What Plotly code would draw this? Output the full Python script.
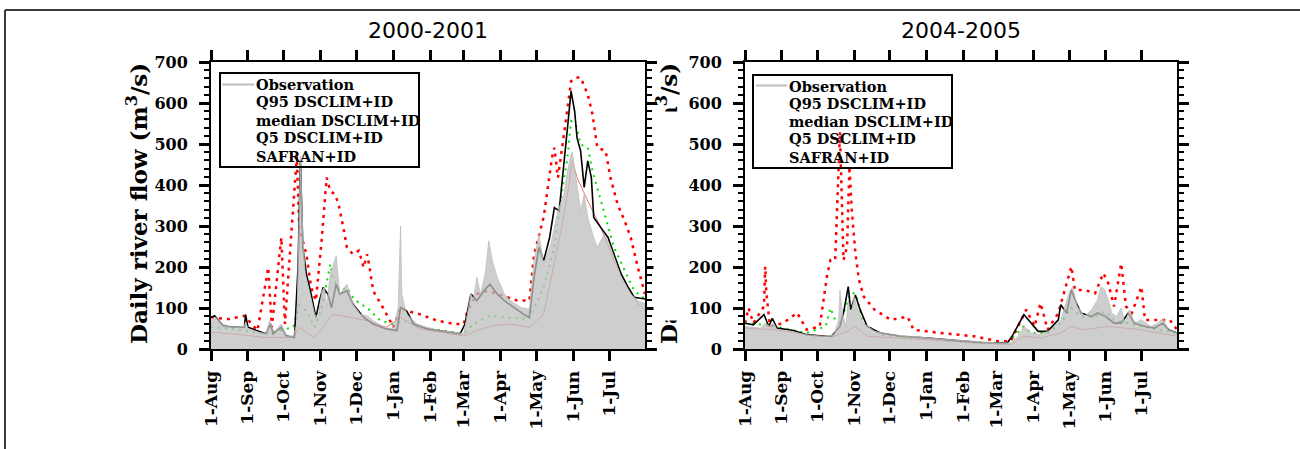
import plotly.graph_objects as go
import pandas as pd

# ---------------- DATA (day offset from 1-Aug, value in m3/s) ----------------
# Panel 1 : 2000-2001
OBS1_DAYS = [0, 4, 10, 18, 28, 29, 31, 39, 46, 49, 53, 59, 63, 69, 72, 74, 75, 77, 79, 83, 87, 90, 93, 95, 97, 100,
             105, 108, 114, 119, 125, 131, 136, 145, 153, 157, 159, 160, 164, 173, 181, 192, 204, 212, 215, 218, 220,
             223, 226, 230, 233, 236, 240, 246, 251, 260, 267, 271, 275, 279, 285, 291, 296, 299, 302, 303, 306, 310,
             313, 316, 320, 324, 330, 335, 344, 352, 358, 364]
OBS1_VALS = [73, 77, 61, 53, 55, 66, 50, 41, 38, 69, 41, 61, 32, 32, 61, 296, 470, 280, 183, 134, 85, 77, 142, 150, 101,
             183, 227, 134, 158, 110, 85, 81, 69, 53, 49, 101, 300, 134, 85, 61, 53, 45, 41, 38, 85, 134, 118, 175, 134,
             183, 264, 215, 175, 134, 118, 101, 97, 215, 280, 207, 256, 337, 377, 434, 475, 480, 418, 337, 377, 321, 280,
             248, 280, 248, 175, 134, 118, 110]

SAF1_DAYS = [0, 3, 10, 18, 28, 29, 31, 46, 50, 52, 59, 63, 70, 73, 75, 77, 80, 84, 88, 91, 94, 98, 101, 105, 108, 114,
             119, 128, 136, 147, 156, 159, 164, 170, 181, 192, 209, 213, 218, 223, 229, 234, 240, 246, 254, 262, 267,
             271, 275, 279, 284, 288, 292, 295, 299, 302, 305, 307, 310, 313, 316, 319, 321, 327, 333, 338, 344, 350,
             355, 364]
SAF1_VALS = [77, 81, 57, 53, 53, 84, 53, 37, 61, 37, 53, 32, 28, 199, 459, 248, 183, 134, 77, 118, 150, 134, 101, 158,
             134, 142, 110, 77, 61, 49, 45, 101, 93, 61, 49, 45, 37, 61, 134, 118, 142, 158, 134, 118, 101, 85, 77, 175,
             248, 215, 272, 345, 337, 418, 540, 629, 580, 515, 483, 394, 459, 418, 321, 296, 272, 231, 183, 150, 126, 122]

Q951_DAYS = [0, 15, 28, 39, 48, 51, 59, 62, 72, 74, 80, 84, 88, 93, 97, 100, 104, 107, 111, 114, 119, 124, 128, 131,
             133, 136, 145, 153, 159, 164, 175, 190, 204, 212, 215, 223, 232, 240, 248, 257, 267, 271, 279, 286, 288,
             291, 296, 302, 306, 310, 316, 320, 324, 331, 335, 341, 347, 352, 358, 364]
Q951_VALS = [77, 73, 81, 45, 199, 53, 272, 61, 470, 296, 231, 150, 118, 272, 418, 386, 377, 353, 296, 248, 231, 240,
             199, 231, 199, 142, 97, 53, 101, 93, 85, 69, 61, 61, 93, 134, 142, 134, 126, 118, 118, 231, 321, 467, 491,
             418, 523, 653, 662, 662, 621, 572, 491, 483, 418, 353, 312, 272, 199, 134]

MED1_DAYS = [0, 18, 46, 69, 74, 80, 87, 93, 100, 102, 108, 114, 119, 125, 131, 142, 153, 164, 175, 192, 212, 220, 234,
             248, 267, 279, 288, 293, 299, 302, 306, 310, 316, 320, 327, 338, 347, 355, 364]
MED1_VALS = [53, 49, 37, 53, 106, 93, 53, 101, 207, 175, 142, 150, 126, 110, 101, 69, 61, 69, 53, 45, 37, 61, 81, 77,
             73, 150, 248, 361, 467, 556, 548, 499, 491, 434, 361, 248, 191, 142, 122]

Q051_DAYS = [0, 18, 46, 69, 74, 86, 94, 102, 117, 131, 147, 159, 175, 192, 212, 223, 237, 251, 267, 279, 285, 293, 299,
             303, 307, 316, 327, 338, 350, 358, 364]
Q051_VALS = [41, 37, 28, 28, 53, 28, 53, 85, 77, 69, 53, 77, 49, 41, 32, 45, 57, 61, 53, 85, 166, 280, 377, 459, 418,
             361, 296, 215, 150, 110, 97]

# Panel 2 : 2004-2005
OBS2_DAYS = [0, 13, 17, 21, 24, 27, 38, 52, 66, 75, 79, 80, 82, 85, 87, 89, 92, 94, 100, 109, 123, 137, 154, 171, 193,
             213, 224, 230, 235, 241, 249, 258, 266, 273, 276, 280, 286, 292, 297, 300, 303, 306, 309, 313, 317, 320,
             324, 328, 334, 342, 348, 352, 357, 364]
OBS2_VALS = [55, 51, 63, 55, 63, 47, 43, 35, 31, 35, 71, 144, 88, 55, 120, 79, 128, 104, 63, 43, 35, 31, 27, 23, 19,
             15, 15, 31, 55, 39, 35, 47, 71, 136, 152, 104, 79, 96, 120, 152, 144, 120, 88, 79, 100, 63, 96, 63, 71, 55,
             63, 75, 47, 39]

SAF2_DAYS = [0, 7, 16, 20, 23, 27, 41, 52, 66, 73, 80, 83, 87, 89, 93, 97, 103, 114, 131, 154, 176, 199, 221, 225, 235,
             241, 247, 255, 264, 266, 271, 275, 278, 283, 292, 297, 304, 311, 317, 323, 328, 337, 345, 352, 357, 364]
SAF2_VALS = [63, 59, 84, 55, 75, 51, 45, 35, 31, 31, 55, 88, 152, 96, 132, 96, 55, 39, 31, 27, 21, 16, 15, 31, 84, 63,
             43, 43, 71, 108, 88, 144, 120, 88, 79, 88, 79, 63, 63, 88, 63, 55, 51, 63, 47, 39]

Q952_DAYS = [0, 3, 7, 16, 17, 18, 21, 32, 44, 52, 63, 69, 72, 76, 80, 83, 86, 88, 90, 93, 96, 100, 109, 123, 137, 142,
             165, 193, 213, 224, 237, 244, 249, 255, 264, 272, 275, 278, 286, 295, 302, 306, 311, 317, 321, 326, 334,
             337, 345, 358, 362, 364]
Q952_VALS = [63, 100, 63, 104, 201, 136, 55, 63, 88, 47, 55, 177, 217, 217, 530, 217, 250, 445, 339, 234, 169, 128, 96,
             71, 79, 47, 39, 31, 19, 19, 96, 55, 112, 47, 88, 169, 201, 144, 144, 136, 185, 161, 104, 209, 104, 88, 152,
             71, 71, 71, 55, 47]

MED2_DAYS = [0, 18, 27, 38, 52, 68, 72, 76, 80, 89, 93, 100, 114, 137, 165, 193, 221, 235, 241, 255, 266, 275, 283, 295,
             303, 311, 323, 334, 348, 364]
MED2_VALS = [63, 59, 55, 47, 39, 55, 100, 71, 63, 136, 136, 63, 35, 27, 23, 15, 15, 55, 39, 39, 63, 100, 79, 79, 92, 71,
             63, 55, 47, 39]

Q052_DAYS = [0, 24, 52, 75, 86, 93, 103, 123, 151, 193, 224, 235, 249, 266, 275, 286, 306, 320, 334, 348, 364]
Q052_VALS = [51, 47, 35, 31, 43, 55, 31, 27, 23, 15, 11, 31, 27, 39, 55, 47, 55, 51, 47, 39, 31]

MONTH_LABELS = ["1-Aug", "1-Sep", "1-Oct", "1-Nov", "1-Dec", "1-Jan", "1-Feb", "1-Mar", "1-Apr", "1-May", "1-Jun", "1-Jul"]
PANEL_TITLES = ["2000-2001", "2004-2005"]
PANEL_STARTS = ["2000-08-01", "2004-08-01"]
LEGEND_LABELS = ["Observation", "Q95 DSCLIM+ID", "median DSCLIM+ID", "Q5 DSCLIM+ID", "SAFRAN+ID"]
Y_TICKS = [0, 100, 200, 300, 400, 500, 600, 700]
Y_TITLE = "Daily river flow (m<sup>3</sup>/s)"

# ---------------- FIGURE ----------------
W, H = 1300, 449
def px(x):
    return x / W
def py(y):
    return 1 - y / H

SERIF = "DejaVu Serif"
fig = go.Figure()

panels = [
    dict(start=PANEL_STARTS[0], obs=(OBS1_DAYS, OBS1_VALS), saf=(SAF1_DAYS, SAF1_VALS), q95=(Q951_DAYS, Q951_VALS),
         med=(MED1_DAYS, MED1_VALS), q05=(Q051_DAYS, Q051_VALS)),
    dict(start=PANEL_STARTS[1], obs=(OBS2_DAYS, OBS2_VALS), saf=(SAF2_DAYS, SAF2_VALS), q95=(Q952_DAYS, Q952_VALS),
         med=(MED2_DAYS, MED2_VALS), q05=(Q052_DAYS, Q052_VALS)),
]

def dates(start, days):
    return pd.Timestamp(start) + pd.to_timedelta(days, unit="D")

for i, p in enumerate(panels):
    xa = "x" if i == 0 else "x2"
    ya = "y" if i == 0 else "y2"
    s = p["start"]
    fig.add_trace(go.Scatter(x=dates(s, p["q95"][0]), y=p["q95"][1], mode="lines", name=LEGEND_LABELS[1],
                             line=dict(color="#ff0000", width=2.5, dash="3px,5px"), xaxis=xa, yaxis=ya, showlegend=False))
    fig.add_trace(go.Scatter(x=dates(s, p["med"][0]), y=p["med"][1], mode="lines", name=LEGEND_LABELS[2],
                             line=dict(color="#00e000", width=2, dash="2px,5px"), xaxis=xa, yaxis=ya, showlegend=False))
    fig.add_trace(go.Scatter(x=dates(s, p["q05"][0]), y=p["q05"][1], mode="lines", name=LEGEND_LABELS[3],
                             line=dict(color="#f07878", width=1), xaxis=xa, yaxis=ya, showlegend=False))
    fig.add_trace(go.Scatter(x=dates(s, p["saf"][0]), y=p["saf"][1], mode="lines", name=LEGEND_LABELS[4],
                             line=dict(color="#000000", width=1.6), xaxis=xa, yaxis=ya, showlegend=False))
    fig.add_trace(go.Scatter(x=dates(s, p["obs"][0]), y=p["obs"][1], mode="lines", name=LEGEND_LABELS[0],
                             line=dict(color="rgba(190,190,190,0.8)", width=1), fill="tozeroy",
                             fillcolor="rgba(190,190,190,0.75)", xaxis=xa, yaxis=ya, showlegend=False))

ytickfont = dict(family=SERIF, size=16, color="black", weight="bold")
xtickfont = dict(family=SERIF, size=17, color="black", weight="bold")
for i, s in enumerate(PANEL_STARTS):
    month_starts = pd.date_range(s, periods=12, freq="MS")
    end = pd.Timestamp(s) + pd.DateOffset(years=1) - pd.Timedelta(days=1)
    dom = [px(211), px(645)] if i == 0 else [px(745), px(1177)]
    xkey = "xaxis" if i == 0 else "xaxis2"
    ykey = "yaxis" if i == 0 else "yaxis2"
    fig.update_layout(**{
        xkey: dict(domain=dom, type="date", range=[pd.Timestamp(s), end], tickvals=month_starts,
                   ticktext=MONTH_LABELS, tickangle=-90, ticks="outside", ticklen=10, tickwidth=2.5,
                   tickcolor="black", showline=True, linewidth=2, linecolor="black", mirror="ticks",
                   showgrid=False, zeroline=False, tickfont=xtickfont, ticklabelstandoff=3, automargin=False,
                   anchor="y" if i == 0 else "y2"),
        ykey: dict(domain=[py(349), py(62)], range=[0, 700], tickvals=Y_TICKS, ticks="outside", ticklen=10,
                   tickwidth=2.5, tickcolor="black", showline=True, linewidth=2, linecolor="black",
                   mirror="ticks", showgrid=False, zeroline=False, tickfont=ytickfont, ticklabelstandoff=8,
                   automargin=False,
                   minor=dict(dtick=20, ticks="outside", ticklen=5, tickwidth=2, tickcolor="black", showgrid=False),
                   anchor="x" if i == 0 else "x2"),
    })

annotations = []
shapes = []
# panel titles
for cx, t in zip([428, 961], PANEL_TITLES):
    annotations.append(dict(text=t, x=px(cx), y=py(30), xref="paper", yref="paper", xanchor="center",
                            yanchor="middle", showarrow=False, font=dict(family="DejaVu Sans", size=22, color="black")))
# y titles (right one partially hidden, as in the reference)
for cx in [137, 667]:
    annotations.append(dict(text=Y_TITLE, x=px(cx), y=py(204), xref="paper", yref="paper", xanchor="center",
                            yanchor="middle", textangle=-90, showarrow=False,
                            font=dict(family=SERIF, size=23, color="black", weight="bold")))
annotations.append(dict(text=" ", x=px(671), y=py(216), xref="paper", yref="paper", xanchor="center",
                        yanchor="middle", showarrow=False, width=32, height=206, bgcolor="white",
                        font=dict(size=10)))

# legends
legends = [dict(box=(220, 73, 419, 167), line=(222, 254, 84.5), tx=254, rows=[85, 102, 120, 137.5, 156]),
           dict(box=(753, 75, 952, 168), line=(756, 787, 85.5), tx=787, rows=[86, 103, 121, 138.5, 157])]
for lg in legends:
    x0, y0, x1, y1 = lg["box"]
    shapes.append(dict(type="rect", xref="paper", yref="paper", x0=px(x0), y0=py(y1), x1=px(x1), y1=py(y0),
                       line=dict(color="black", width=2), fillcolor="rgba(0,0,0,0)", layer="above"))
    lx0, lx1, ly = lg["line"]
    shapes.append(dict(type="line", xref="paper", yref="paper", x0=px(lx0), y0=py(ly), x1=px(lx1), y1=py(ly),
                       line=dict(color="#bebebe", width=2), layer="above"))
    for lab, ry in zip(LEGEND_LABELS, lg["rows"]):
        annotations.append(dict(text=lab, x=px(lg["tx"]), y=py(ry), xref="paper", yref="paper", xanchor="left",
                                yanchor="middle", showarrow=False,
                                font=dict(family=SERIF, size=14.5, color="black", weight="bold")))

# outer frame
shapes.append(dict(type="line", xref="paper", yref="paper", x0=px(5), y0=0, x1=px(5), y1=py(10),
                   line=dict(color="#3a3a3a", width=2)))
shapes.append(dict(type="line", xref="paper", yref="paper", x0=px(5), y0=py(10), x1=1, y1=py(10),
                   line=dict(color="#3a3a3a", width=2)))

fig.update_layout(width=W, height=H, autosize=False, margin=dict(l=0, r=0, t=0, b=0, pad=0),
                  paper_bgcolor="white", plot_bgcolor="white", showlegend=False,
                  annotations=annotations, shapes=shapes)

fig.write_html("out.html")
